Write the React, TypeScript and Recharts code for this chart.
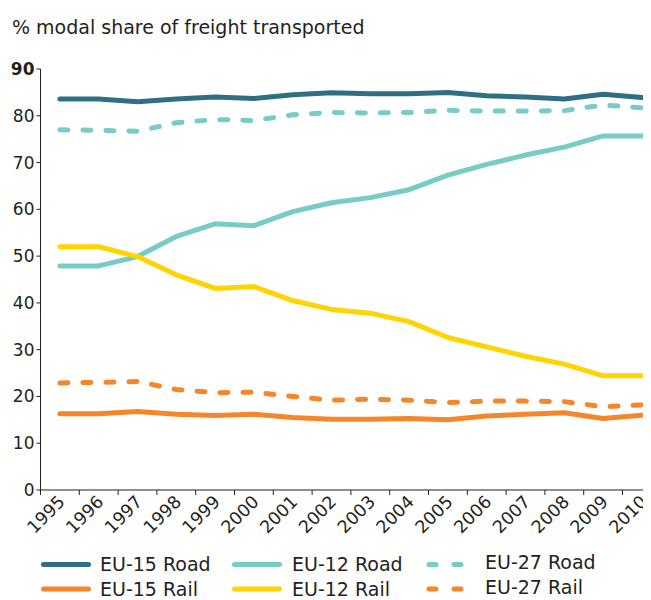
import React from 'react';
import { LineChart, Line, XAxis, YAxis } from 'recharts';

const years = [1995, 1996, 1997, 1998, 1999, 2000, 2001, 2002, 2003, 2004, 2005, 2006, 2007, 2008, 2009, 2010];
const eu15Road = [83.6, 83.6, 83.0, 83.6, 84.0, 83.7, 84.5, 84.9, 84.7, 84.7, 85.0, 84.3, 84.0, 83.6, 84.6, 83.9];
const eu12Road = [47.9, 47.9, 49.9, 54.2, 56.9, 56.5, 59.5, 61.4, 62.5, 64.2, 67.3, 69.6, 71.6, 73.3, 75.7, 75.7];
const eu27Road = [77.0, 76.9, 76.7, 78.5, 79.2, 79.0, 80.2, 80.7, 80.6, 80.7, 81.2, 81.0, 81.0, 81.1, 82.3, 81.7];
const eu15Rail = [16.3, 16.3, 16.8, 16.2, 15.9, 16.2, 15.5, 15.1, 15.1, 15.3, 15.0, 15.8, 16.2, 16.5, 15.3, 16.0];
const eu12Rail = [52.0, 52.0, 49.9, 46.0, 43.1, 43.5, 40.5, 38.6, 37.8, 36.0, 32.6, 30.6, 28.6, 26.9, 24.4, 24.4];
const eu27Rail = [22.9, 23.0, 23.2, 21.5, 20.8, 20.9, 20.0, 19.2, 19.4, 19.2, 18.7, 19.0, 19.0, 18.9, 17.8, 18.2];
const yTicks = [0, 10, 20, 30, 40, 50, 60, 70, 80, 90];
const bandEdges = [1994.5, 1995.5, 1996.5, 1997.5, 1998.5, 1999.5, 2000.5, 2001.5, 2002.5, 2003.5, 2004.5, 2005.5, 2006.5, 2007.5, 2008.5, 2009.5, 2010.5];
const title = '% modal share of freight transported';

const data = years.map((year, i) => ({
  year,
  eu15Road: eu15Road[i],
  eu12Road: eu12Road[i],
  eu27Road: eu27Road[i],
  eu15Rail: eu15Rail[i],
  eu12Rail: eu12Rail[i],
  eu27Rail: eu27Rail[i],
}));

const series = [
  { key: 'eu15Road', name: 'EU-15 Road', color: '#2E6F84', dashed: false, col: 0, row: 0 },
  { key: 'eu12Road', name: 'EU-12 Road', color: '#78CCC7', dashed: false, col: 1, row: 0 },
  { key: 'eu27Road', name: 'EU-27 Road', color: '#78CCC7', dashed: true, col: 2, row: 0 },
  { key: 'eu15Rail', name: 'EU-15 Rail', color: '#F5862A', dashed: false, col: 0, row: 1 },
  { key: 'eu12Rail', name: 'EU-12 Rail', color: '#FFD400', dashed: false, col: 1, row: 1 },
  { key: 'eu27Rail', name: 'EU-27 Rail', color: '#F5862A', dashed: true, col: 2, row: 1 },
];

const FONT = '"DejaVu Sans", Verdana, sans-serif';
const TEXT = '#231F20';

const YTick = (props: any) => {
  const { x, y, payload } = props;
  const v = payload.value;
  return (
    <text x={x} y={y} dy="0.355em" textAnchor="end" fontSize={17} fontFamily={FONT} fill={TEXT} fontWeight={v === 90 ? 'bold' : 'normal'}>
      {v}
    </text>
  );
};

const YearTick = (props: any) => {
  const { x, y, payload } = props;
  const ax = x + 6;
  const ay = y + 12;
  return (
    <text x={ax} y={ay} textAnchor="end" fontSize={17.5} fontFamily={FONT} fill={TEXT} transform={`rotate(-45, ${ax}, ${ay})`}>
      {payload.value}
    </text>
  );
};

const colX = [41, 232, 426];
const textX = [100, 292, 485];
const rowY = [564.5, 589];

export default function App() {
  return (
    <div style={{ position: 'relative', width: 643, height: 592, fontFamily: FONT }}>
      <div style={{ position: 'absolute', left: 0, top: 0, width: 643, height: 542, overflow: 'hidden' }}>
        <LineChart width={653.3} height={542} data={data} margin={{ top: 61, right: 0, bottom: 58, left: 0 }}>
          <XAxis
            xAxisId="b"
            dataKey="year"
            type="number"
            domain={[1994.5, 2010.5]}
            allowDataOverflow
            ticks={years}
            interval={0}
            height={1}
            tickSize={0}
            tickMargin={0}
            axisLine={false}
            tickLine={false}
            tick={<YearTick />}
          />
          <XAxis
            xAxisId="a"
            dataKey="year"
            type="number"
            domain={[1994.5, 2010.5]}
            allowDataOverflow
            ticks={bandEdges}
            interval={0}
            height={1}
            tickSize={5}
            tick={() => <g />}
            axisLine={{ stroke: TEXT, strokeWidth: 1 }}
            tickLine={{ stroke: TEXT, strokeWidth: 1 }}
          />
          <YAxis
            type="number"
            domain={[0, 90]}
            ticks={yTicks}
            interval={0}
            width={32.5}
            tickSize={4}
            tickMargin={2}
            axisLine={{ stroke: TEXT, strokeWidth: 1 }}
            tickLine={{ stroke: TEXT, strokeWidth: 1 }}
            tick={<YTick />}
          />
          {series.map((s) => (
            <Line
              key={s.key}
              xAxisId="a"
              dataKey={s.key}
              name={s.name}
              type="linear"
              stroke={s.color}
              strokeWidth={5}
              strokeLinecap="round"
              strokeLinejoin="round"
              strokeDasharray={s.dashed ? '8 15' : undefined}
              dot={false}
              activeDot={false}
              isAnimationActive={false}
            />
          ))}
        </LineChart>
      </div>
      <svg width={651} height={600} style={{ position: 'absolute', left: -8, top: -8, pointerEvents: 'none' }}>
        <text x={12} y={34} fontSize={19} fontFamily={FONT} fill={TEXT}>{title}</text>
        {series.map((s) => {
          const y = rowY[s.row];
          const x0 = colX[s.col];
          const tx = textX[s.col];
          const ty = s.col === 2 ? y + 4.5 : y + 6.5;
          return (
            <g key={s.key}>
              {s.dashed ? (
                <>
                  <line x1={x0 + 3} x2={x0 + 10} y1={y} y2={y} stroke={s.color} strokeWidth={5} strokeLinecap="round" />
                  <line x1={x0 + 28} x2={x0 + 35} y1={y} y2={y} stroke={s.color} strokeWidth={5} strokeLinecap="round" />
                </>
              ) : (
                <line x1={x0 + 2.5} x2={x0 + 47.5} y1={y} y2={y} stroke={s.color} strokeWidth={5} strokeLinecap="round" />
              )}
              <text x={tx} y={ty} fontSize={19} fontFamily={FONT} fill={TEXT}>{s.name}</text>
            </g>
          );
        })}
      </svg>
    </div>
  );
}
